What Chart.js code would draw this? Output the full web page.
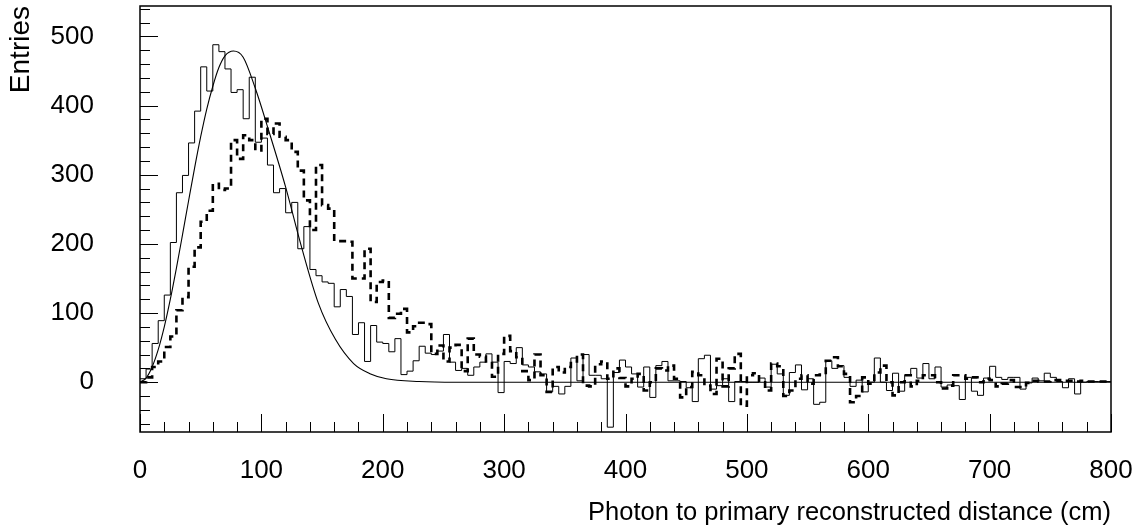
<!DOCTYPE html>
<html>
<head>
<meta charset="utf-8">
<script src="https://cdn.jsdelivr.net/npm/chart.js"></script>
<style>
  html, body { margin: 0; padding: 0; background: #fff; }
  #wrap { width: 1141px; height: 531px; }
</style>
</head>
<body>
<div id="wrap"><canvas id="myChart"></canvas></div>
<script>
// Data (bin width 5 cm, 160 bins from 0 to 800)
const binWidth = 5;

const solidCounts = [
  5, 19, 56, 89, 126, 202, 274, 299, 346, 392, 456, 421, 488, 478, 453, 419,
  423, 381, 441, 347, 353, 314, 274, 280, 245, 260, 193, 225, 163, 154, 145, 143, 109,
  134, 124, 69, 86, 30, 82, 58, 56, 44, 63, 11, 16, 31, 52, 42, 40,
  45, 69, 29, 17, 20, 10, 22, 29, 41, 29, -15, 30, 27, 50, 25, 22, 15,
  12, -14, -6, -17, -6, 35, 2, 40, 10, 10, 5, -65, 14, 32, 22, 12, -7, 22, -22, 24,
  30, 2, 2, 1, -8, -28, 34, 39, -10, -5, 5, -28, 1, 1, 0, 0, 6, -7, 26,
  12, -19, 14, 25, -11, 5, -32, -29, 31, 20, 24, 7, -6, 3, -14, 0, 35, 0,
  -12, 13, -13, 11, 20, 6, 27, 5, 22, -7, -4, -5, -25, 7, -13, -19, 6, 23, 7,
  4, 7, 7, -10, -1, 6, 2, 13, 7, 1, -8, 5, -17, 0, 1, 1, 1, 1
];

const dashedCounts = [
  0, 7, 22, 30, 51, 66, 104, 123, 167, 195, 232, 248, 287, 278, 280, 350,
  323, 357, 350, 335, 381, 359, 374, 355, 350, 333, 306, 263, 220, 314, 256, 251, 204,
  204, 203, 150, 150, 193, 116, 145, 147, 93, 99, 106, 72, 81, 86, 84, 41,
  53, 30, 50, 54, 16, 63, 40, 37, 30, 8, 41, 67, 45, 36, 16, 3, 40,
  10, -14, 22, 14, 22, 30, 40, -5, -6, 26, 30, 5, 20, 6, -6, 5, 12, -12, 0,
  20, 17, 24, 5, -22, -7, 15, 10, -5, -17, 34, -6, 20, 41, -34, 10, 13, 0, -12, 27,
  23, -20, -12, 5, 10, -2, 10, 11, 31, 36, 23, 12, -29, -20, 7, -2, 14, 24, 0,
  -19, 0, 10, -6, 2, 10, 10, 0, -9, -5, 10, 10, 5, 7, 0, 5, 3, -6,
  -2, 3, -7, -7, -1, 2, 1, 1, 3, 3, 2, 2, 1, 2, 1, 1, 1, 1
];

// fit curve, points
const fitX = [0, 5, 10, 15, 20, 25, 30, 35, 40, 45, 50, 55, 60, 65, 70, 77, 85, 95, 106, 120, 133, 147, 161, 176, 190, 203, 230, 260, 800];
const fitY = [0, 6, 22, 47, 80, 120, 165, 213, 262, 310, 355, 395, 428, 455, 472, 479, 470, 425, 364, 282, 196, 114, 62, 27, 12, 5, 1, 0, 0];

const xLabels = [0, 100, 200, 300, 400, 500, 600, 700, 800];
const yLabels = [0, 100, 200, 300, 400, 500];

// histogram -> step points (left edge of every bin + closing point)
function histPoints(counts) {
  const pts = counts.map((v, i) => ({ x: i * binWidth, y: v }));
  pts.push({ x: counts.length * binWidth, y: counts[counts.length - 1] });
  return pts;
}

// no extra padding from the scales, the layout padding decides
function noPad(s) {
  s.paddingLeft = 0;
  s.paddingRight = 0;
  s.paddingTop = 0;
  s.paddingBottom = 0;
}

// ROOT style frame with inside ticks
const rootFrame = {
  id: 'rootFrame',
  afterDatasetsDraw(chart) {
    const { ctx, chartArea: a, scales: { x, y } } = chart;
    ctx.save();
    ctx.strokeStyle = '#000';
    ctx.lineWidth = 1;
    ctx.beginPath();
    x.ticks.forEach(t => {
      if (t.value % 20 !== 0) return;
      const px = Math.round(x.getPixelForValue(t.value)) + 0.5;
      const len = t.value % 100 === 0 ? 18 : 10;
      ctx.moveTo(px, a.bottom);
      ctx.lineTo(px, a.bottom - len);
    });
    y.ticks.forEach(t => {
      if (t.value % 20 !== 0) return;
      const py = Math.round(y.getPixelForValue(t.value)) + 0.5;
      const len = t.value % 100 === 0 ? 18 : 10;
      ctx.moveTo(a.left, py);
      ctx.lineTo(a.left + len, py);
    });
    ctx.stroke();
    ctx.lineWidth = 1.5;
    ctx.strokeRect(a.left, a.top, a.right - a.left, a.bottom - a.top);
    ctx.restore();
  }
};

Chart.defaults.font.family = '"Liberation Sans", Arial, Helvetica, sans-serif';
Chart.defaults.color = '#000';

const config = {
  type: 'line',
  data: {
    datasets: [
      {
        label: 'dashed',
        data: histPoints(dashedCounts),
        stepped: 'before',
        borderColor: '#000',
        borderWidth: 2.6,
        borderDash: [7, 5],
        pointRadius: 0,
        fill: false
      },
      {
        label: 'solid',
        data: histPoints(solidCounts),
        stepped: 'before',
        borderColor: '#000',
        borderWidth: 1,
        pointRadius: 0,
        fill: false
      },
      {
        label: 'fit',
        data: fitX.map((v, i) => ({ x: v, y: fitY[i] })),
        cubicInterpolationMode: 'monotone',
        borderColor: '#000',
        borderWidth: 1.1,
        pointRadius: 0,
        fill: false
      }
    ]
  },
  options: {
    responsive: true,
    maintainAspectRatio: false,
    animation: false,
    layout: { autoPadding: false, padding: { left: 0, right: 30, top: 6, bottom: 0 } },
    plugins: { legend: { display: false }, tooltip: { enabled: false } },
    scales: {
      x: {
        type: 'linear',
        min: 0,
        max: 800,
        grid: { display: false },
        border: { display: false },
        afterFit: s => { s.height = 99; noPad(s); },
        ticks: {
          stepSize: 20,
          autoSkip: false,
          maxRotation: 0,
          includeBounds: false,
          padding: 15,
          font: { size: 26 },
          callback: v => xLabels.includes(v) ? String(v) : ''
        },
        title: {
          display: true,
          text: 'Photon to primary reconstructed distance (cm)',
          align: 'end',
          font: { size: 25.5 },
          padding: { top: 0, bottom: 3 }
        }
      },
      y: {
        min: -72,
        max: 544,
        grid: { display: false },
        border: { display: false },
        afterFit: s => { s.width = 140; noPad(s); },
        ticks: {
          stepSize: 20,
          autoSkip: false,
          includeBounds: false,
          padding: 38,
          font: { size: 26 },
          callback: v => yLabels.includes(v) ? String(v) : ''
        },
        title: {
          display: true,
          text: 'Entries',
          align: 'end',
          font: { size: 28 },
          padding: { top: 4, bottom: 0 }
        }
      }
    }
  },
  plugins: [rootFrame]
};

// Skapa diagrammet
const myChart = new Chart(document.getElementById('myChart'), config);
</script>
</body>
</html>
